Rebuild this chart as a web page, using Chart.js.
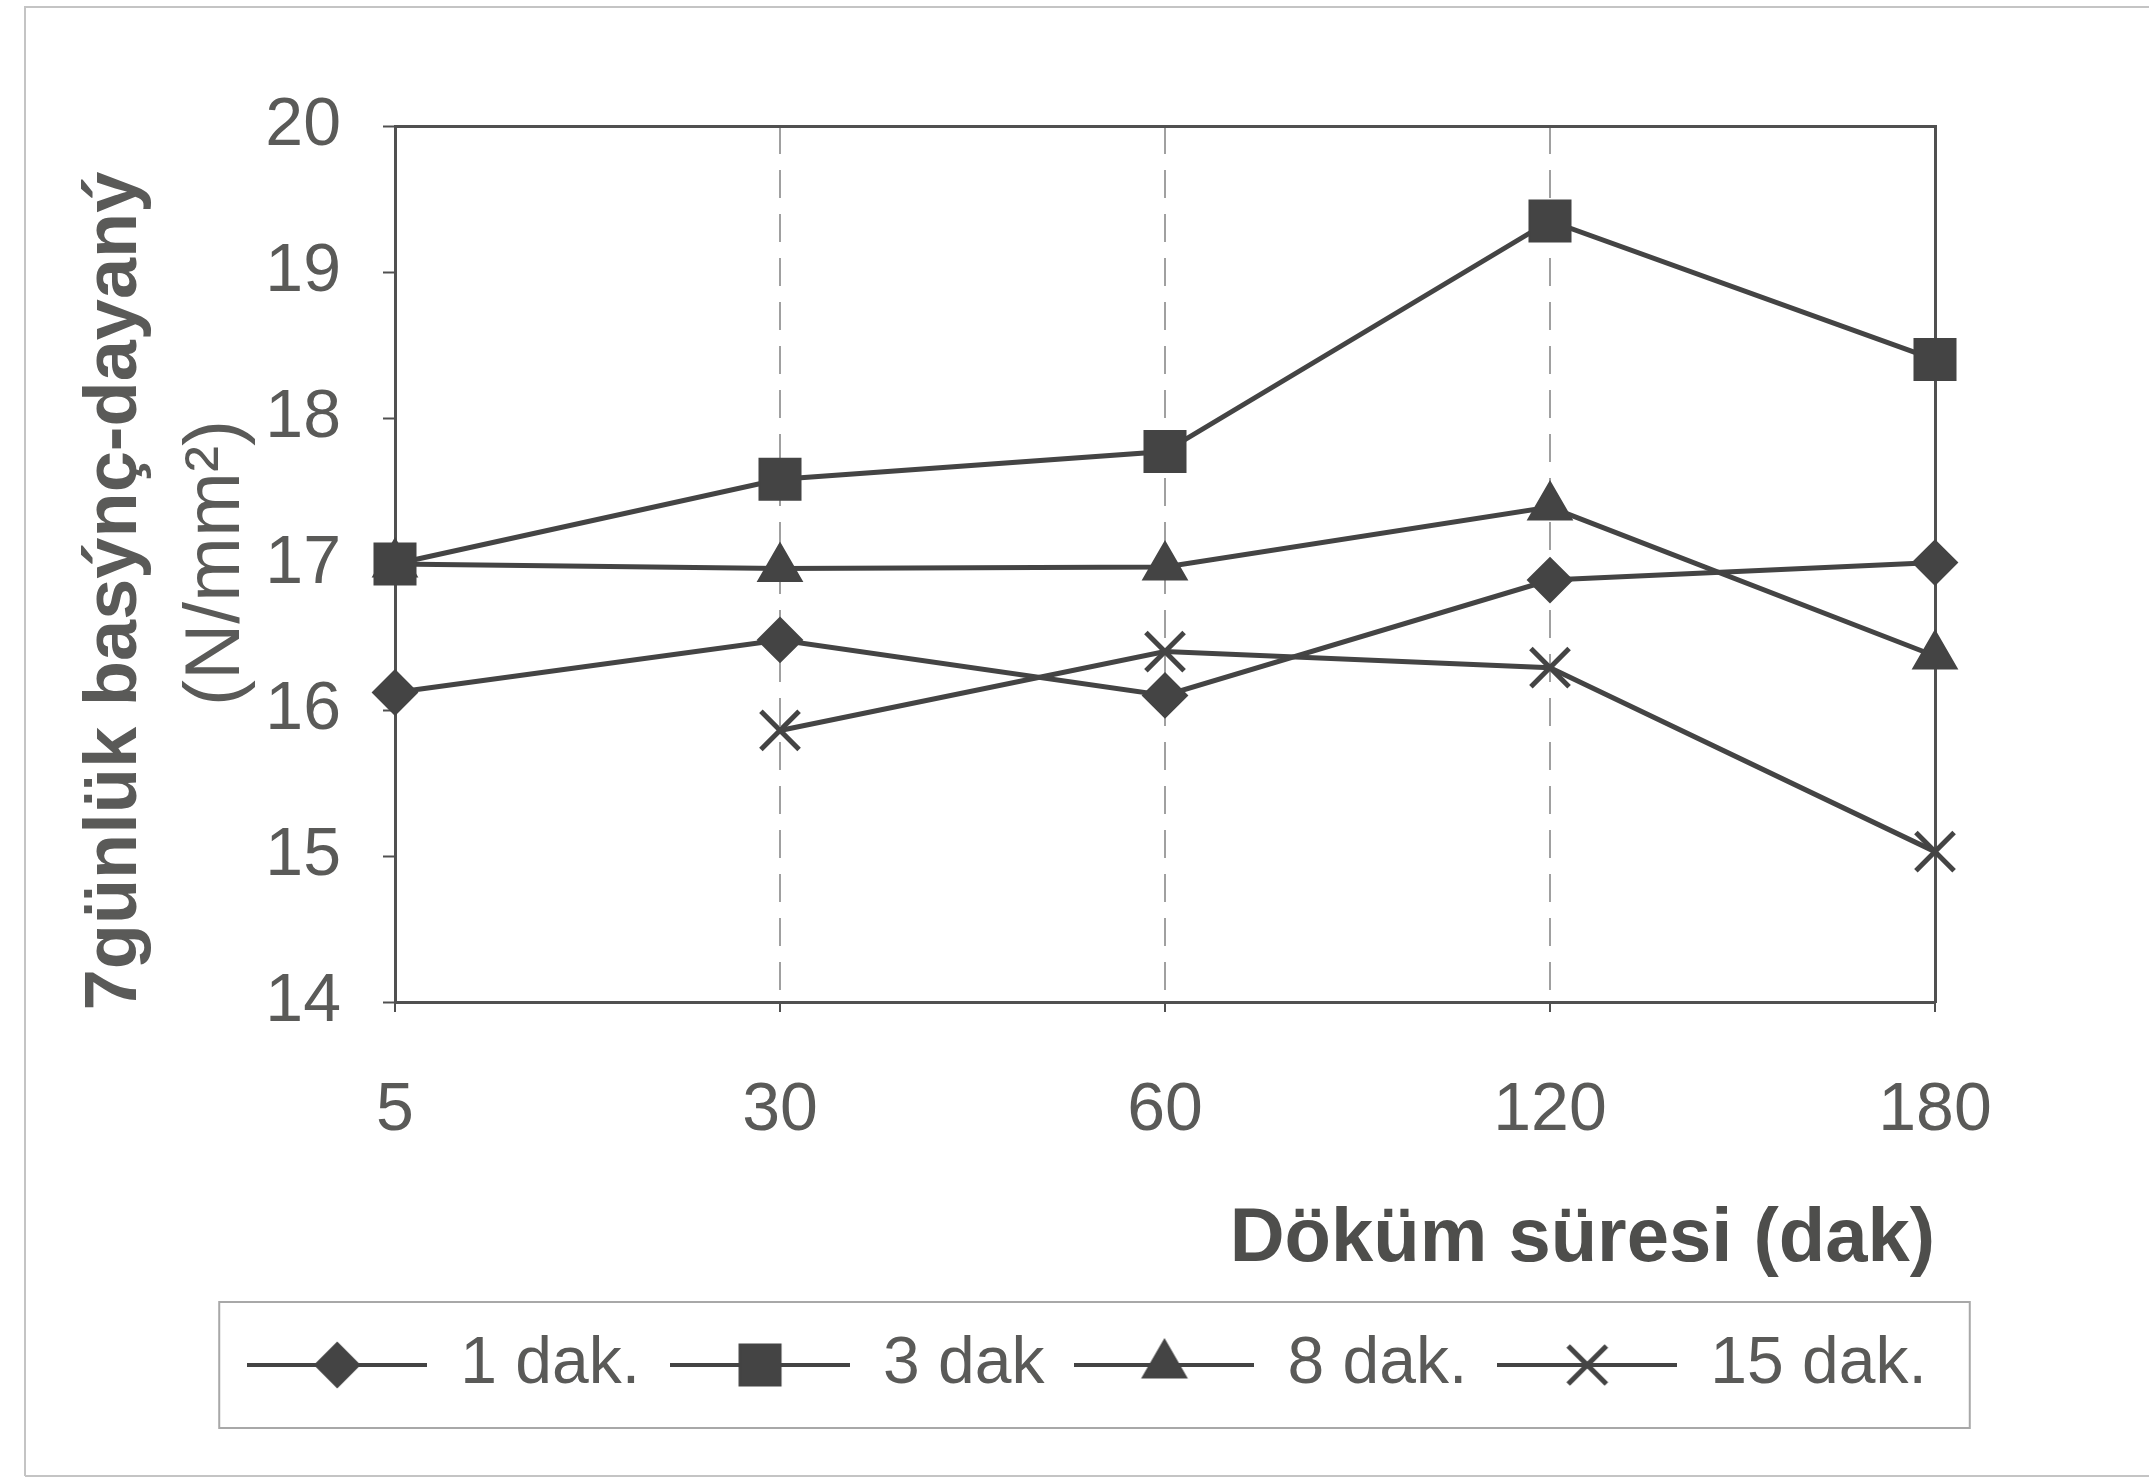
<!DOCTYPE html>
<html>
<head>
<meta charset="utf-8">
<script src="https://cdn.jsdelivr.net/npm/chart.js@4.4.1/dist/chart.umd.min.js"></script>
<style>
  html, body { margin: 0; padding: 0; background: #ffffff; }
  #wrap { width: 2149px; height: 1481px; }
</style>
</head>
<body>
<div id="wrap"><canvas id="c" width="2149" height="1481"></canvas></div>
<script>
// Casting time categories (minutes) and 7-day compressive strength per mixing time
const castTimes = ['5', '30', '60', '120', '180'];
const seriesNames = ['1 dak.', '3 dak', '8 dak.', '15 dak.'];
const mix1 = [16.12, 16.48, 16.10, 16.89, 17.01];
const mix3 = [17.00, 17.58, 17.77, 19.35, 18.40];
const mix8 = [17.00, 16.97, 16.98, 17.39, 16.37];
const mix15 = [null, 15.86, 16.40, 16.29, 15.03];
const yMin = 14, yMax = 20, yStep = 1;
const xTitle = 'Döküm süresi (dak)';
const yTitleMain = '7günlük basýnç-dayaný';
const yTitleUnit = '(N/mm²)';

const FONT = '"Liberation Sans", Arial, sans-serif';
const INK = '#444444';
const TEXT = '#5a5a58';
const AXIS = '#505050';

const markers = [
  { style: 'rectRot', radius: 22, border: 2 },
  { style: 'rect', radius: 29, border: 2 },
  { style: 'triangle', radius: 25, border: 2 },
  { style: 'crossRot', radius: 27, border: 5 }
];
const seriesData = [mix1, mix3, mix8, mix15];

// Legend swatch: a line segment with the series marker in its middle
function swatch(m) {
  const cv = document.createElement('canvas');
  cv.width = 180; cv.height = 64;
  const g = cv.getContext('2d');
  g.strokeStyle = INK; g.fillStyle = INK; g.lineWidth = 4;
  g.beginPath(); g.moveTo(0, 32); g.lineTo(180, 32); g.stroke();
  g.lineWidth = m.border;
  Chart.helpers.drawPoint(g, { pointStyle: m.style, radius: m.radius, rotation: 0, borderWidth: m.border }, 90, 32);
  return cv;
}
const swatches = markers.map(swatch);

const datasets = seriesNames.map((name, i) => ({
  label: name,
  data: seriesData[i],
  borderColor: INK,
  backgroundColor: INK,
  borderWidth: 5,
  pointStyle: markers[i].style,
  pointRadius: markers[i].radius,
  pointHoverRadius: markers[i].radius,
  pointBorderWidth: markers[i].border,
  pointBackgroundColor: INK,
  pointBorderColor: INK,
  tension: 0,
  spanGaps: false,
  xAxisID: 'x',
  yAxisID: 'y'
}));

// Frame, legend box and two-line rotated value-axis caption
const decor = {
  id: 'decor',
  beforeDraw(chart) {
    const g = chart.ctx;
    g.save();
    g.fillStyle = '#ffffff';
    g.fillRect(0, 0, chart.width, chart.height);
    g.strokeStyle = '#c4c4c4';
    g.lineWidth = 2;
    g.beginPath();
    g.moveTo(25, 1476); g.lineTo(25, 7); g.lineTo(2149, 7);
    g.moveTo(25, 1476); g.lineTo(2149, 1476);
    g.stroke();
    g.restore();
  },
  afterDraw(chart) {
    const g = chart.ctx;
    const a = chart.chartArea;
    // legend box
    const boxes = chart.legend.legendHitBoxes;
    if (boxes && boxes.length) {
      const l = Math.min(...boxes.map(b => b.left)) - 28;
      const r = Math.max(...boxes.map(b => b.left + b.width)) + 43;
      const cy = boxes[0].top + boxes[0].height / 2;
      g.save();
      g.strokeStyle = '#a8a8a8';
      g.lineWidth = 2;
      g.strokeRect(l, cy - 63, r - l, 126);
      g.restore();
    }
    // value-axis caption
    g.save();
    g.fillStyle = TEXT;
    g.textAlign = 'center';
    g.textBaseline = 'middle';
    g.translate(a.left - 279, a.top + 465);
    g.rotate(-Math.PI / 2);
    g.font = 'bold 74px ' + FONT;
    g.fillText(yTitleMain, 0, 0);
    g.restore();
    g.save();
    g.fillStyle = TEXT;
    g.textAlign = 'center';
    g.textBaseline = 'middle';
    g.translate(a.left - 178, a.top + 437);
    g.rotate(-Math.PI / 2);
    g.font = '78px ' + FONT;
    g.fillText(yTitleUnit, 0, 0);
    g.restore();
  }
};

new Chart(document.getElementById('c'), {
  type: 'line',
  data: { labels: castTimes, datasets },
  options: {
    responsive: false,
    animation: false,
    devicePixelRatio: 1,
    layout: { padding: { left: 205, right: 180, top: 126, bottom: 73 } },
    plugins: {
      tooltip: { enabled: false },
      legend: {
        position: 'bottom',
        labels: {
          usePointStyle: true,
          pointStyleWidth: 180,
          padding: 30,
          color: TEXT,
          font: { size: 66, family: FONT },
          generateLabels: (chart) => chart.data.datasets.map((ds, i) => ({
            text: ds.label,
            pointStyle: swatches[i],
            fillStyle: INK,
            strokeStyle: INK,
            lineWidth: 0,
            fontColor: TEXT,
            hidden: false,
            datasetIndex: i
          }))
        }
      }
    },
    scales: {
      x: {
        type: 'category',
        offset: false,
        grid: {
          color: (c) => (c.index === 0 || c.index === castTimes.length - 1) ? 'rgba(0,0,0,0)' : '#a0a0a0',
          lineWidth: 2,
          drawTicks: true,
          tickLength: 10,
          tickColor: AXIS,
          tickWidth: 2
        },
        border: { display: true, color: AXIS, width: 3, dash: [28, 16] },
        ticks: {
          color: TEXT,
          font: { size: 68, family: FONT },
          padding: 58,
          maxRotation: 0,
          autoSkip: false
        },
        title: {
          display: true,
          text: xTitle,
          align: 'end',
          color: '#4e4e4c',
          font: { size: 76, weight: 'bold', family: FONT },
          padding: { top: 0, bottom: 16 }
        },
        afterFit: (s) => { s.height = 300; }
      },
      x2: {
        type: 'linear',
        position: 'top',
        display: true,
        grid: { display: false, drawTicks: false },
        ticks: { display: false },
        border: { display: true, color: AXIS, width: 3 },
        afterFit: (s) => { s.height = 0; }
      },
      y: {
        type: 'linear',
        position: 'left',
        min: yMin,
        max: yMax,
        ticks: {
          stepSize: yStep,
          color: TEXT,
          font: { size: 68, family: FONT },
          padding: 42
        },
        grid: {
          drawOnChartArea: false,
          drawTicks: true,
          tickLength: 12,
          tickColor: AXIS,
          tickWidth: 2
        },
        border: { display: true, color: AXIS, width: 3 },
        afterFit: (s) => { s.width = 190; }
      },
      y2: {
        type: 'linear',
        position: 'right',
        display: true,
        grid: { display: false, drawTicks: false },
        ticks: { display: false },
        border: { display: true, color: AXIS, width: 3 },
        afterFit: (s) => { s.width = 34; }
      }
    }
  },
  plugins: [decor]
});
</script>
</body>
</html>
